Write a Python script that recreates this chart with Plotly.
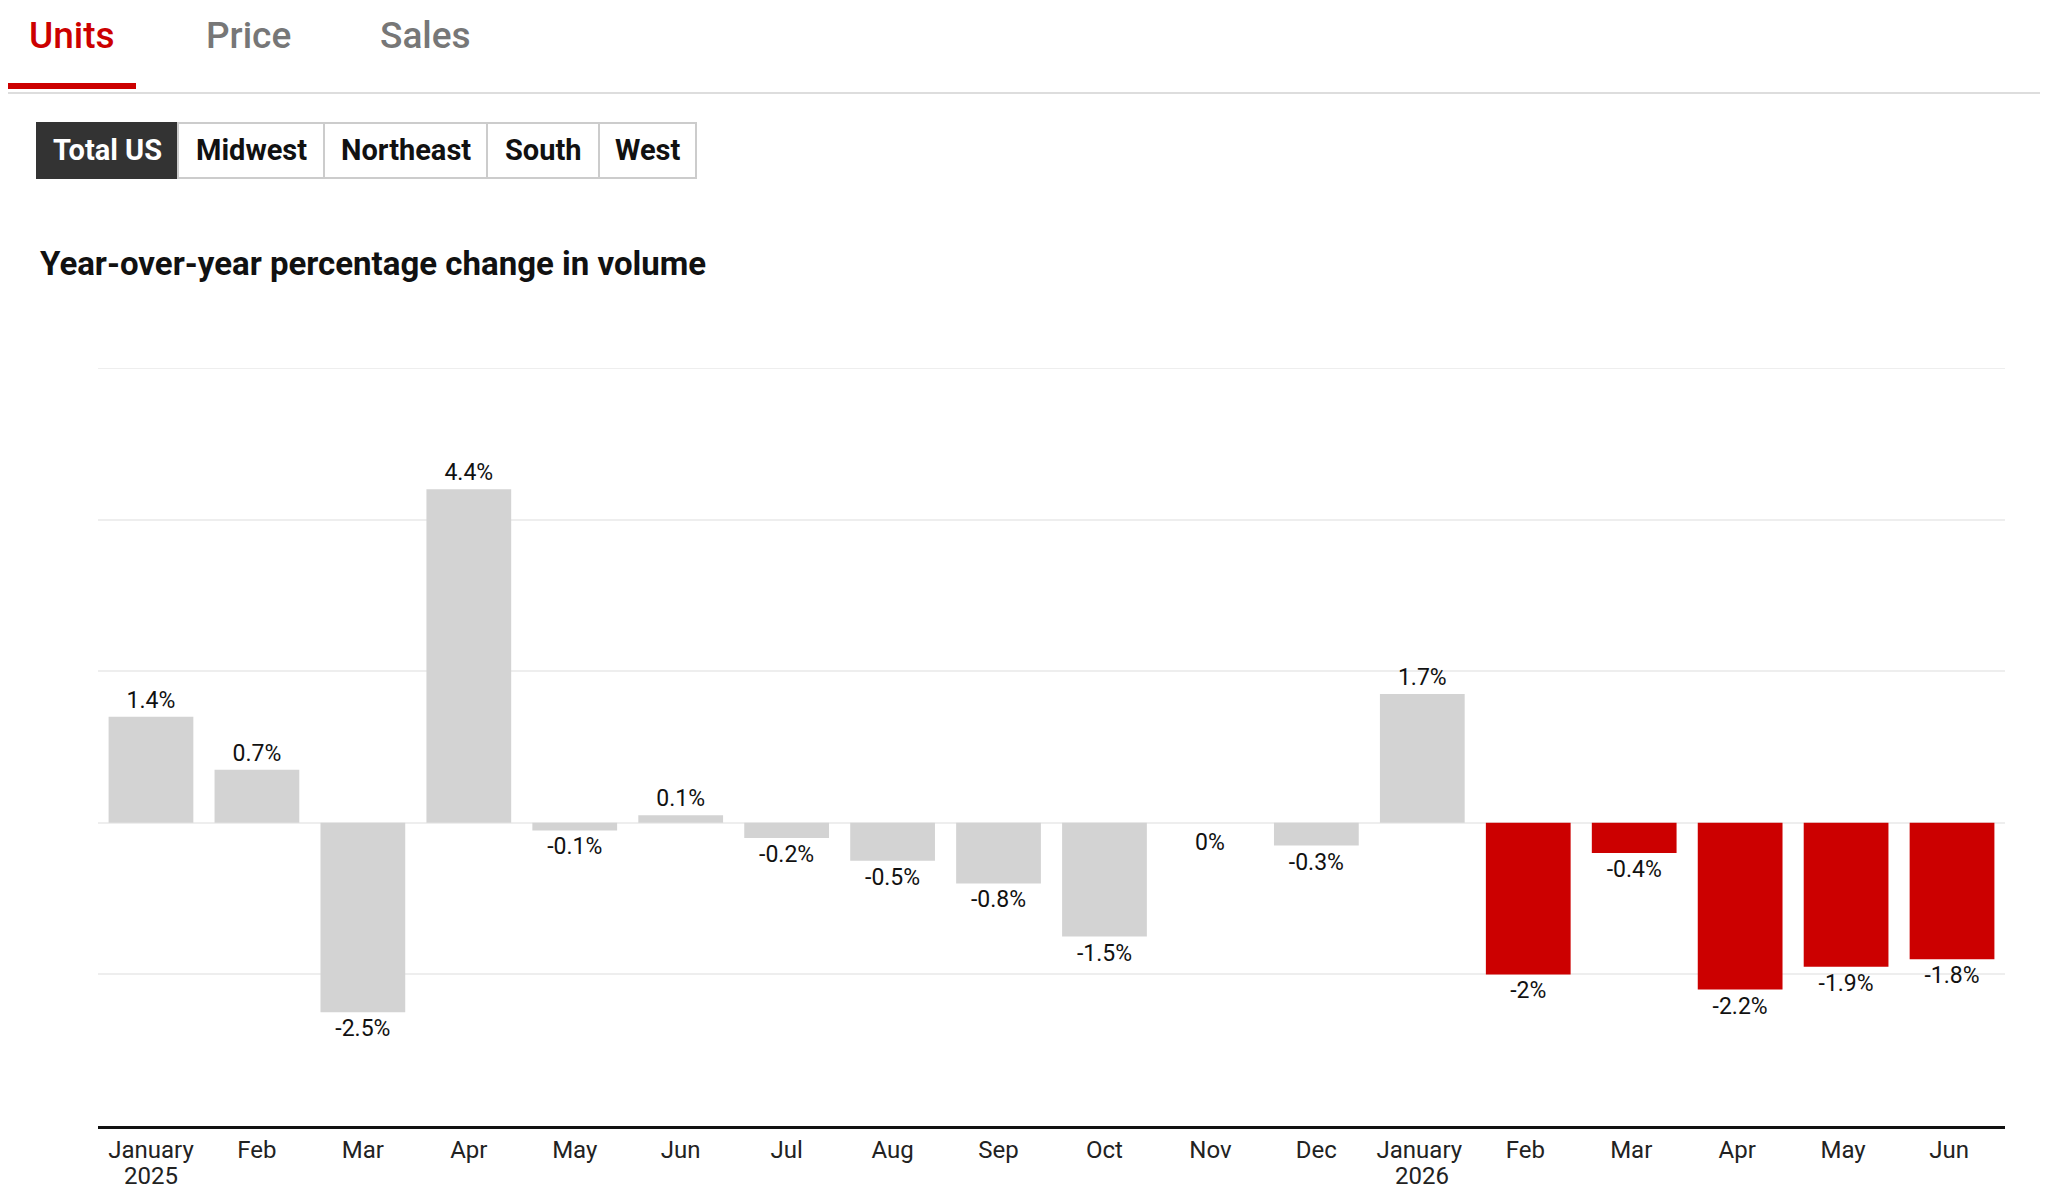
import plotly.graph_objects as go

# year-over-year % change in unit volume, Total US
# (trailing spaces keep the 2026 months distinct categories)
months = ["January", "Feb", "Mar", "Apr", "May", "Jun", "Jul", "Aug", "Sep",
          "Oct", "Nov", "Dec", "January ", "Feb ", "Mar ", "Apr ", "May ", "Jun "]
years = {"January": "2025", "January ": "2026"}
values = [1.4, 0.7, -2.5, 4.4, -0.1, 0.1, -0.2, -0.5, -0.8,
          -1.5, 0, -0.3, 1.7, -2, -0.4, -2.2, -1.9, -1.8]
highlight = [False] * 13 + [True] * 5

tabs = ["Units", "Price", "Sales"]
regions = ["Total US", "Midwest", "Northeast", "South", "West"]
title = "Year-over-year percentage change in volume"

# page body has an 8px margin, so the figure is a bit smaller than the window
OFF = 8
W, H = 2048 - OFF, 1199 - OFF
L, R, T, B = 90, 43, 360, 73
FONT = "Roboto"
RED = "#cc0000"
GREY = "#d3d3d3"


def px(x):
    # x in screenshot pixels -> paper coords
    return (x - OFF - L) / (W - L - R)


def py(y):
    return (H - B - (y - OFF)) / (H - T - B)


labels = [f"{v:g}%" if v != 0 else "" for v in values]
colors = [RED if h else GREY for h in highlight]

fig = go.Figure(go.Bar(
    x=months, y=values,
    marker=dict(color=colors, line=dict(width=0)),
    text=labels, textposition="outside", constraintext="none",
    textfont=dict(family=FONT, size=23, color="#111"),
    cliponaxis=False,
    hoverinfo="skip",
))

shapes = []
annotations = []

# zero-valued bars get their label below the baseline, like the negatives
for m, v in zip(months, values):
    if v == 0:
        annotations.append(dict(x=m, y=0, xref="x", yref="y", text=f"{v:g}%",
                                showarrow=False, yanchor="top", yshift=-4,
                                font=dict(family=FONT, size=23, color="#111")))

# year under the January ticks
for m, yr in years.items():
    annotations.append(dict(x=m, y=0, xref="x", yref="paper", text=yr,
                            showarrow=False, yanchor="middle", yshift=-50,
                            font=dict(family=FONT, size=24, color="#222")))

# top gridline sits on the range edge, draw it explicitly
shapes.append(dict(type="line", xref="paper", yref="y", x0=0, x1=1, y0=6, y1=6,
                   line=dict(color="#eeeeee", width=2), layer="below"))

# top tabs
tab_x = [72, 248, 425]
for i, (name, cx) in enumerate(zip(tabs, tab_x)):
    annotations.append(dict(
        x=px(cx), y=py(35), xref="paper", yref="paper", text=name, showarrow=False,
        font=dict(family=FONT, size=37, weight=500, color=RED if i == 0 else "#777"),
        xanchor="center", yanchor="middle"))
shapes.append(dict(type="line", xref="paper", yref="paper", x0=px(8), x1=px(2046),
                   y0=py(93), y1=py(93), line=dict(color="#dddddd", width=2)))
shapes.append(dict(type="rect", xref="paper", yref="paper", x0=px(8), x1=px(136),
                   y0=py(83), y1=py(89), fillcolor=RED, line=dict(width=0)))

# region buttons
edges = [37, 178, 324, 487, 599, 696]
btn_top, btn_bot = 123, 178
for i, name in enumerate(regions):
    x0, x1 = edges[i], edges[i + 1]
    active = i == 0
    shapes.append(dict(type="rect", xref="paper", yref="paper",
                       x0=px(x0), x1=px(x1), y0=py(btn_top), y1=py(btn_bot),
                       fillcolor="#333333" if active else "white",
                       line=dict(color="#333333" if active else "#cccccc", width=2)))
    annotations.append(dict(
        x=px((x0 + x1) / 2), y=py((btn_top + btn_bot) / 2), xref="paper", yref="paper",
        text=f"<b>{name}</b>", showarrow=False,
        font=dict(family=FONT, size=29, color="white" if active else "#111"),
        xanchor="center", yanchor="middle"))

annotations.append(dict(
    x=px(38), y=py(263), xref="paper", yref="paper", text=f"<b>{title}</b>",
    showarrow=False, font=dict(family=FONT, size=33, color="#111"),
    xanchor="left", yanchor="middle"))

fig.update_layout(
    width=W, height=H,
    margin=dict(l=L, r=R, t=T, b=B),
    paper_bgcolor="white", plot_bgcolor="white",
    bargap=0.2, showlegend=False,
    shapes=shapes, annotations=annotations,
    xaxis=dict(showline=True, linecolor="#111", linewidth=3, ticks="", automargin=False,
               tickfont=dict(family=FONT, size=24, color="#222"), fixedrange=True),
    yaxis=dict(range=[-4, 6], tickvals=[-2, 0, 2, 4, 6], showticklabels=False,
               showgrid=True, gridcolor="#eeeeee", gridwidth=2, zeroline=False,
               automargin=False, fixedrange=True),
)

fig.write_html("out.html", config={"displayModeBar": False})
